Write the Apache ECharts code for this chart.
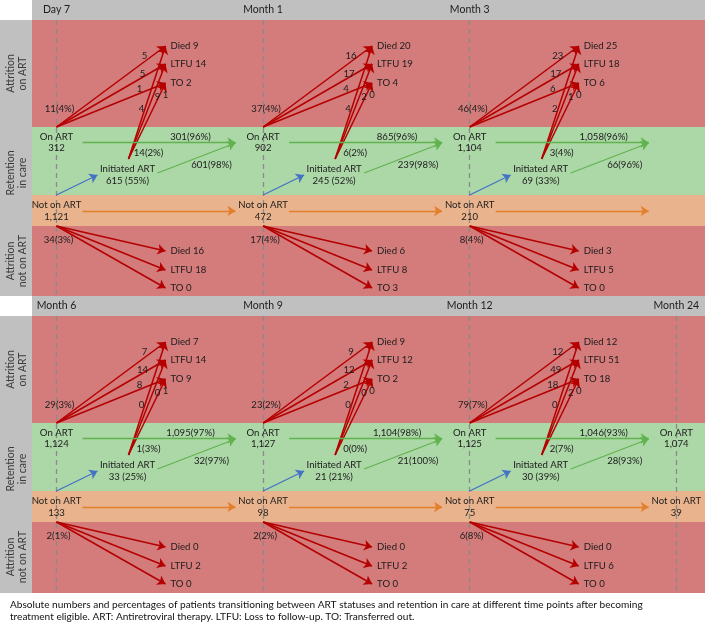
<!DOCTYPE html>
<html><head><meta charset="utf-8">
<script src="https://cdn.jsdelivr.net/npm/echarts@6/dist/echarts.min.js"></script>
<style>html,body{margin:0;padding:0;background:#fff}#c{width:705px;height:624px}</style>
</head><body><div id="c"></div>
<script>
// ---------------- data ----------------
const timepoints = ['Day 7', 'Month 1', 'Month 3', 'Month 6', 'Month 9', 'Month 12', 'Month 24'];
const onART = [312, 902, 1104, 1124, 1127, 1125, 1074];
const notOnART = [1121, 472, 210, 133, 98, 75, 39];
// per interval (Day7->M1, M1->M3, M3->M6, M6->M9, M9->M12, M12->M24)
const initiatedN = [615, 245, 69, 33, 21, 30];
const initiatedPct = [55, 52, 33, 25, 21, 39];
const retainedOnN = [301, 865, 1058, 1095, 1104, 1046];
const retainedOnPct = [96, 96, 96, 97, 98, 93];
const retainedInitN = [601, 239, 66, 32, 21, 28];
const retainedInitPct = [98, 98, 96, 97, 100, 93];
const attrOnN = [11, 37, 46, 29, 23, 79];
const attrOnPct = [4, 4, 4, 3, 2, 7];
const attrOnDied = [5, 16, 23, 7, 9, 12];
const attrOnLtfu = [5, 17, 17, 14, 12, 49];
const attrOnTo = [1, 4, 6, 8, 2, 18];
const attrInitN = [14, 6, 3, 1, 0, 2];
const attrInitPct = [2, 2, 4, 3, 0, 7];
const attrInitDied = [4, 4, 2, 0, 0, 0];
const attrInitLtfu = [9, 2, 1, 0, 0, 2];
const attrInitTo = [1, 0, 0, 1, 0, 0];
const totalOnDied = [9, 20, 25, 7, 9, 12];
const totalOnLtfu = [14, 19, 18, 14, 12, 51];
const totalOnTo = [2, 4, 6, 9, 2, 18];
const attrNotN = [34, 17, 8, 2, 2, 6];
const attrNotPct = [3, 4, 4, 1, 2, 8];
const attrNotDied = [16, 6, 3, 0, 0, 0];
const attrNotLtfu = [18, 8, 5, 2, 2, 6];
const attrNotTo = [0, 3, 0, 0, 0, 0];
const bandLabels = ['Attrition\non ART', 'Retention\nin care', 'Attrition\nnot on ART'];
const captionLines = [
  'Absolute numbers and percentages of patients transitioning between ART statuses and retention in care at different time points after becoming',
  'treatment eligible. ART: Antiretroviral therapy. LTFU: Loss to follow-up. TO: Transferred out.'
];

// ---------------- layout ----------------
const FONT = 'Lato, "Open Sans", sans-serif';
const FS = 9.6;
const fmt = n => n.toLocaleString('en-US');
const PX = 206.6, X0 = 56.5, W = 705, LEFTW = 32, HEAD = 20;
const ux = px => px / PX;
const xMin = -X0 / PX, xMax = (W - X0) / PX, xLeft = (LEFTW - X0) / PX;
const panels = [
  { top: 0, bodyH: 276, tps: [0, 1, 2], ivs: [0, 1, 2], sep: true },
  { top: 296, bodyH: 277, tps: [3, 4, 5, 6], ivs: [3, 4, 5], sep: false }
];
const C = {
  red: '#d47b7b', green: '#acd7a7', orange: '#e9b48d', gray: '#c0c0c0',
  aRed: '#b40000', aGreen: '#62b34f', aBlue: '#4472c4', aOrange: '#e37e2b',
  dash: '#8a8a8a', text: '#1c1c1c'
};

function build(pn) {
  const rects = [], arrows = [], plain = [], texts = [];
  const H = pn.bodyH;
  const T = (x, y, t, al, extra) => texts.push(Object.assign({ x, y, t, al: al || 'center' }, extra || {}));
  const A = (x1, y1, x2, y2, c, w) => arrows.push({ coords: [[x1, y1], [x2, y2]], c, w: w || 1.4 });
  rects.push({ x1: xLeft, x2: xMax, y1: -HEAD, y2: 0, c: C.gray });
  rects.push({ x1: xMin, x2: xLeft, y1: 0, y2: H, c: C.gray });
  rects.push({ x1: xLeft, x2: xMax, y1: 0, y2: 107, c: C.red });
  rects.push({ x1: xLeft, x2: xMax, y1: 107, y2: 175, c: C.green });
  rects.push({ x1: xLeft, x2: xMax, y1: 175, y2: 206, c: C.orange });
  rects.push({ x1: xLeft, x2: xMax, y1: 206, y2: H, c: C.red });
  const lx = ux(17 - X0);
  [53.5, 153, 241].forEach((y, j) => T(lx, y, bandLabels[j], 'center', { rot: true, c: '#3a3a3a', fs: 10.5 }));

  pn.tps.forEach((tp, k) => {
    T(k, -10, timepoints[tp], 'center', { fs: 10.5 });
    plain.push({ coords: [[k, 0], [k, H]], c: C.dash, w: 1.3, dash: true });
    T(k, 117, 'On ART'); T(k, 128, fmt(onART[tp]));
    T(k, 185, 'Not on ART'); T(k, 197, fmt(notOnART[tp]));
  });

  pn.ivs.forEach((i, k) => {
    const tipX = k + ux(109);
    const tipsTop = [26, 44, 63], tipsBot = [231, 250, 268];
    // attrition on ART from On ART node
    T(k + ux(3), 89, `${attrOnN[i]}(${attrOnPct[i]}%)`);
    tipsTop.forEach(ty => A(k, 107, tipX, ty, C.aRed, 1.5));
    T(k + ux(88), 36, String(attrOnDied[i]));
    T(k + ux(86), 54, String(attrOnLtfu[i]));
    T(k + ux(83), 69, String(attrOnTo[i]));
    // attrition from newly initiated
    tipsTop.forEach(ty => A(k + ux(72), 139, tipX, ty, C.aRed, 1.5));
    T(k + ux(85), 89, String(attrInitDied[i]));
    T(k + ux(101), 77, String(attrInitLtfu[i]));
    T(k + ux(109), 75, String(attrInitTo[i]));
    T(k + ux(92), 133, `${attrInitN[i]}(${attrInitPct[i]}%)`);
    // totals
    T(k + ux(114), 26, `Died ${totalOnDied[i]}`, 'left');
    T(k + ux(114), 44, `LTFU ${totalOnLtfu[i]}`, 'left');
    T(k + ux(114), 63, `TO ${totalOnTo[i]}`, 'left');
    // retention on ART
    A(k + ux(26), 122.5, k + ux(179), 122.5, C.aGreen, 1.3);
    T(k + ux(134), 117, `${fmt(retainedOnN[i])}(${retainedOnPct[i]}%)`);
    // initiation
    A(k, 175, k + ux(41), 155, C.aBlue, 1.3);
    T(k + ux(71), 149, 'Initiated ART');
    T(k + ux(71), 161, `${fmt(initiatedN[i])} (${initiatedPct[i]}%)`);
    A(k + ux(101), 153, k + ux(179), 123, C.aGreen, 1.3);
    T(k + ux(155), 145, `${fmt(retainedInitN[i])}(${retainedInitPct[i]}%)`);
    // not on ART continuing
    A(k + ux(26), 191, k + ux(179), 191, C.aOrange, 1.3);
    // attrition not on ART
    T(k + ux(2), 220, `${attrNotN[i]}(${attrNotPct[i]}%)`);
    tipsBot.forEach(ty => A(k, 206, tipX, ty, C.aRed, 1.5));
    T(k + ux(114), 231, `Died ${attrNotDied[i]}`, 'left');
    T(k + ux(114), 250, `LTFU ${attrNotLtfu[i]}`, 'left');
    T(k + ux(114), 268, `TO ${attrNotTo[i]}`, 'left');
  });
  if (pn.sep) plain.push({ coords: [[xMin, H + 0.5], [xMax, H + 0.5]], c: '#000', w: 2 });
  return { rects, arrows, plain, texts };
}

const series = [];
panels.forEach((pn, p) => {
  const sc = build(pn);
  series.push({
    type: 'custom', xAxisIndex: p, yAxisIndex: p, z: 1, silent: true,
    data: sc.rects.map(r => [r.x1, r.y1, r.x2, r.y2]),
    renderItem: (params, api) => {
      const r = sc.rects[params.dataIndex];
      const a = api.coord([r.x1, r.y1]), b = api.coord([r.x2, r.y2]);
      return { type: 'rect', shape: { x: a[0], y: a[1], width: b[0] - a[0], height: b[1] - a[1] }, style: { fill: r.c } };
    }
  });
  series.push({
    type: 'lines', coordinateSystem: 'cartesian2d', xAxisIndex: p, yAxisIndex: p, z: 2, silent: true,
    symbol: 'none',
    data: sc.plain.map(l => ({ coords: l.coords, lineStyle: { color: l.c, width: l.w, type: l.dash ? [5, 4] : 'solid', opacity: 1 } }))
  });
  series.push({
    type: 'lines', coordinateSystem: 'cartesian2d', xAxisIndex: p, yAxisIndex: p, z: 3, silent: true,
    symbol: ['none', 'arrow'], symbolSize: 8,
    data: sc.arrows.map(l => ({ coords: l.coords, lineStyle: { color: l.c, width: l.w, opacity: 1 } }))
  });
  series.push({
    type: 'custom', xAxisIndex: p, yAxisIndex: p, z: 4, silent: true,
    data: sc.texts.map(t => [t.x, t.y]),
    renderItem: (params, api) => {
      const t = sc.texts[params.dataIndex];
      const pt = api.coord([t.x, t.y]);
      return {
        type: 'text', x: pt[0], y: pt[1], rotation: t.rot ? Math.PI / 2 : 0,
        style: { text: t.t, fill: t.c || C.text, fontSize: t.fs || FS, fontFamily: FONT, align: t.al, verticalAlign: 'middle', lineHeight: 12 }
      };
    }
  });
});

const chart = echarts.init(document.getElementById('c'));
chart.setOption({
  animation: false,
  backgroundColor: '#fff',
  grid: panels.map(pn => ({ left: 0, right: 0, top: pn.top, height: HEAD + pn.bodyH })),
  xAxis: panels.map((pn, p) => ({ type: 'value', gridIndex: p, min: xMin, max: xMax, show: false })),
  yAxis: panels.map((pn, p) => ({ type: 'value', gridIndex: p, min: -HEAD, max: pn.bodyH, inverse: true, show: false })),
  graphic: [{
    type: 'text', left: 10, top: 598,
    style: { text: captionLines.join('\n'), fill: '#111', fontSize: 10.1, fontFamily: FONT, lineHeight: 12.5 }
  }],
  series
});
</script>
</body></html>
